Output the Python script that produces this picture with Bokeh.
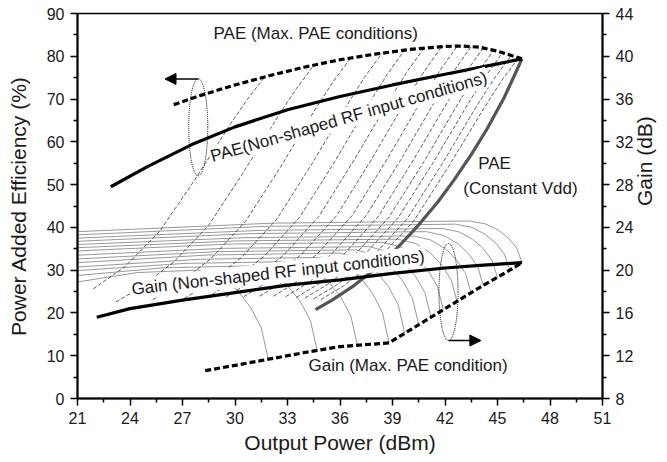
import math
from bokeh.plotting import figure
from bokeh.models import Range1d, LinearAxis, FixedTicker, Label, Arrow, NormalHead
from bokeh.core.properties import value
from bokeh.embed import file_html
from bokeh.resources import INLINE

# ---------------- data ----------------
x_ticks = [21, 24, 27, 30, 33, 36, 39, 42, 45, 48, 51]
x_minor = [22.5, 25.5, 28.5, 31.5, 34.5, 37.5, 40.5, 43.5, 46.5, 49.5]
pae_ticks = [0, 10, 20, 30, 40, 50, 60, 70, 80, 90]
pae_minor = [5, 15, 25, 35, 45, 55, 65, 75, 85]
gain_ticks = [8, 12, 16, 20, 24, 28, 32, 36, 40, 44]
gain_minor = [10, 14, 18, 22, 26, 30, 34, 38, 42]

# PAE (Max. PAE conditions)
pae_max_x = [26.5, 28, 30, 32, 34, 36, 38, 40, 42, 43, 44, 45, 46.4]
pae_max_y = [68.7, 70.8, 73.3, 75.5, 77.5, 79.2, 80.5, 81.6, 82.3, 82.4, 82.1, 81.2, 79.4]
# PAE (Non-shaped RF input conditions)
pae_ns_x = [22.9, 25, 27.5, 30, 33, 36, 39, 42, 44, 46.4]
pae_ns_y = [49.5, 54.2, 59.3, 63.5, 67.5, 70.6, 73.3, 75.8, 77.4, 79.4]
# PAE (Constant Vdd)
pae_vdd_x = [34.6, 35.5, 36.8, 38, 39.3, 40.5, 41.6, 42.5, 43.5, 44.4, 45.4, 46.4]
pae_vdd_y = [20.8, 22.9, 26.4, 30.3, 35.3, 40.6, 46.0, 51.0, 57.0, 63.0, 70.5, 79.4]
# Gain (Non-shaped RF input conditions), dB
gain_ns_x = [22.1, 24, 27, 30, 33, 36, 39, 42, 44, 46.4]
gain_ns_y = [15.6, 16.4, 17.2, 17.9, 18.6, 19.1, 19.7, 20.2, 20.45, 20.7]
# Gain (Max. PAE condition), dB
gain_max_x = [28.3, 30, 32, 34, 36, 38.8, 41.2, 42.7, 44, 45.5, 46.4]
gain_max_y = [10.6, 11.1, 11.7, 12.3, 12.85, 13.2, 15.6, 17.1, 18.4, 19.8, 20.7]

# family of gain curves (thin grey), dB
gain_fam_x = [
    [21, 24.45, 27.9, 29.1, 30.1, 30.9, 31.5, 31.9],
    [21, 25.9, 30.8, 31.97, 32.95, 33.73, 34.31, 34.7],
    [21, 27.08, 33.15, 34.3, 35.27, 36.04, 36.62, 37.0],
    [21, 28.03, 35.05, 36.18, 37.11, 37.86, 38.43, 38.8],
    [21, 28.5, 36.0, 37.11, 38.04, 38.78, 39.33, 39.7],
    [21, 28.95, 36.9, 37.98, 38.88, 39.6, 40.14, 40.5],
    [21, 29.33, 37.65, 38.72, 39.6, 40.31, 40.85, 41.2],
    [21, 29.73, 38.45, 39.49, 40.35, 41.04, 41.56, 41.9],
    [21, 30.15, 39.3, 40.32, 41.17, 41.85, 42.36, 42.7],
    [21, 30.6, 40.2, 41.19, 42.02, 42.68, 43.17, 43.5],
    [21, 30.98, 40.95, 41.93, 42.74, 43.39, 43.88, 44.2],
    [21, 31.43, 41.85, 42.8, 43.58, 44.21, 44.69, 45.0],
    [21, 31.8, 42.6, 43.53, 44.3, 44.93, 45.39, 45.7],
    [21, 32.2, 43.4, 44.3, 45.05, 45.65, 46.1, 46.4],
]
gain_fam_y = [
    [18.9, 19.78, 20.0, 19.42, 18.17, 16.51, 14.6, 11.7],
    [19.5, 20.22, 20.4, 19.85, 18.66, 17.08, 15.27, 12.5],
    [19.96, 20.63, 20.8, 20.25, 19.07, 17.5, 15.7, 12.95],
    [20.3, 21.02, 21.2, 20.64, 19.44, 17.84, 16.0, 13.2],
    [20.7, 21.42, 21.6, 21.08, 19.95, 18.45, 16.73, 14.1],
    [21.05, 21.73, 21.9, 21.41, 20.36, 18.96, 17.35, 14.9],
    [21.4, 22.04, 22.2, 21.74, 20.75, 19.43, 17.91, 15.6],
    [21.8, 22.44, 22.6, 22.16, 21.21, 19.95, 18.5, 16.3],
    [22.1, 22.74, 22.9, 22.49, 21.6, 20.42, 19.06, 17.0],
    [22.4, 23.04, 23.2, 22.82, 22.01, 20.93, 19.69, 17.8],
    [22.7, 23.42, 23.6, 23.24, 22.48, 21.46, 20.29, 18.5],
    [23.0, 23.72, 23.9, 23.58, 22.89, 21.97, 20.91, 19.3],
    [23.3, 24.1, 24.3, 24.0, 23.35, 22.49, 21.5, 20.0],
    [23.6, 24.4, 24.6, 24.33, 23.74, 22.96, 22.07, 20.7],
]

# family of PAE curves (thin dotted), %
pae_fam_x = [
    [21.9, 23.7, 25.7, 27.7, 29.7, 30.7, 31.7],
    [23.2, 24.5, 26.5, 28.5, 30.5, 32.5, 33.5, 34.5],
    [25.3, 26.6, 28.6, 30.6, 32.6, 34.6, 35.6, 36.6],
    [27.1, 28.4, 30.4, 32.4, 34.4, 36.4, 37.4, 38.4],
    [28.4, 29.7, 31.7, 33.7, 35.7, 37.7, 38.7, 39.7],
    [29.5, 30.8, 32.8, 34.8, 36.8, 38.8, 39.8, 40.8],
    [30.5, 31.8, 33.8, 35.8, 37.8, 39.8, 40.8, 41.8],
    [31.4, 32.7, 34.7, 36.7, 38.7, 40.7, 41.7, 42.7],
    [32.2, 33.5, 35.5, 37.5, 39.5, 41.5, 42.5, 43.5],
    [32.9, 34.2, 36.2, 38.2, 40.2, 42.2, 43.2, 44.2],
    [33.5, 34.8, 36.8, 38.8, 40.8, 42.8, 43.8, 44.8],
    [34.0, 35.3, 37.3, 39.3, 41.3, 43.3, 44.3, 45.3],
    [34.5, 35.8, 37.8, 39.8, 41.8, 43.8, 44.8, 45.8],
    [34.9, 36.2, 38.2, 40.2, 42.2, 44.2, 45.2, 46.2],
]
pae_fam_y = [
    [25.6, 30.8, 39.1, 51.1, 63.9, 69.9, 75.2],
    [22.6, 25.7, 31.9, 40.5, 53.0, 66.2, 72.4, 77.9],
    [23.1, 26.3, 32.6, 41.4, 54.1, 67.7, 74.0, 79.6],
    [23.4, 26.6, 33.1, 42.0, 54.9, 68.6, 75.1, 80.7],
    [23.6, 26.9, 33.4, 42.4, 55.4, 69.3, 75.8, 81.5],
    [23.8, 27.0, 33.6, 42.6, 55.7, 69.6, 76.2, 81.9],
    [23.8, 27.1, 33.7, 42.7, 55.9, 69.9, 76.4, 82.2],
    [23.9, 27.2, 33.8, 42.8, 56.0, 70.0, 76.6, 82.4],
    [23.9, 27.2, 33.7, 42.8, 56.0, 70.0, 76.5, 82.3],
    [23.8, 27.1, 33.6, 42.6, 55.8, 69.7, 76.3, 82.0],
    [23.6, 26.9, 33.4, 42.4, 55.4, 69.3, 75.8, 81.5],
    [23.5, 26.7, 33.2, 42.1, 55.0, 68.8, 75.2, 80.9],
    [23.3, 26.5, 32.9, 41.8, 54.6, 68.3, 74.7, 80.3],
    [23.1, 26.3, 32.7, 41.4, 54.2, 67.7, 74.1, 79.7],
]

# grouping ellipses (centre x, centre y in PAE units, width, height)
ell_x = [27.9, 42.2]
ell_y = [63.4, 24.9]
ell_w = [1.09, 1.09]
ell_h = [22.7, 22.7]

FONT = "Liberation Sans"

p = figure(frame_width=525, frame_height=385, output_backend="svg", toolbar_location=None,
           x_range=Range1d(21, 51), y_range=Range1d(0, 90),
           min_border_left=77, min_border_right=60, min_border_top=13, min_border_bottom=60)
p.extra_y_ranges = {"gain": Range1d(8, 44)}
p.xgrid.visible = False
p.ygrid.visible = False
p.outline_line_color = "black"
p.outline_line_width = 1.5
p.background_fill_color = "white"
p.border_fill_color = "white"

# families
for xs, ys in zip(gain_fam_x, gain_fam_y):
    p.line(xs, ys, y_range_name="gain", line_color="#8c8c8c", line_width=0.9)
for xs, ys in zip(pae_fam_x, pae_fam_y):
    p.line(xs, ys, line_color="#333333", line_width=0.8, line_dash="4 2")

# main curves
p.line(pae_vdd_x, pae_vdd_y, line_color="#555555", line_width=3.2)
p.line(pae_ns_x, pae_ns_y, line_color="black", line_width=3.2)
p.line(pae_max_x, pae_max_y, line_color="black", line_width=3.2, line_dash="6 3")
p.line(gain_ns_x, gain_ns_y, y_range_name="gain", line_color="black", line_width=3.2)
p.line(gain_max_x, gain_max_y, y_range_name="gain", line_color="black", line_width=3.2, line_dash="6 3")

# ellipses + arrows
p.ellipse(ell_x, ell_y, width=ell_w, height=ell_h, fill_color=None,
          line_color="black", line_width=1, line_dash=value("1 1"))
p.add_layout(Arrow(x_start=27.9, y_start=74.7, x_end=26.0, y_end=74.7, line_width=1.5,
                   end=NormalHead(size=11, fill_color="black", line_color="black")))
p.add_layout(Arrow(x_start=42.2, y_start=13.55, x_end=44.05, y_end=13.55, line_width=1.5,
                   end=NormalHead(size=11, fill_color="black", line_color="black")))

def lab(x, y, t, angle=0.0, align="center", bg=True, size="17px"):
    kw = dict(x=x, y=y, text=t, angle=angle, angle_units="deg", text_align=align,
              text_baseline="middle", text_font=FONT, text_font_size=size, text_color="#1a1a1a")
    if bg:
        kw.update(background_fill_color="white", padding=1)
    p.add_layout(Label(**kw))

lab(28.77, 85.3, "PAE (Max. PAE conditions)", align="left", bg=False)
lab(36.51, 65.8, "PAE(Non-shaped RF input conditions)", angle=16.1)
lab(32.46, 29.4, "Gain (Non-shaped RF input conditions)", angle=6.4)
lab(44.83, 54.9, "PAE")
lab(46.31, 49.07, "(Constant Vdd)")
lab(39.89, 7.7, "Gain (Max. PAE condition)", bg=False)

# axes
def style_axis(ax):
    ax.axis_line_width = 2
    ax.axis_line_color = "black"
    ax.major_tick_line_width = 1.5
    ax.minor_tick_line_width = 1.5
    ax.major_tick_in = 0
    ax.major_tick_out = 7
    ax.minor_tick_in = 0
    ax.minor_tick_out = 4
    ax.major_label_text_font = FONT
    ax.major_label_text_font_size = "16px"
    ax.major_label_text_color = "#1a1a1a"
    ax.major_label_standoff = 6
    ax.axis_label_text_font = FONT
    ax.axis_label_text_font_size = "21px"
    ax.axis_label_text_font_style = "normal"
    ax.axis_label_text_color = "#1a1a1a"

p.xaxis.ticker = FixedTicker(ticks=x_ticks, minor_ticks=x_minor)
p.yaxis.ticker = FixedTicker(ticks=pae_ticks, minor_ticks=pae_minor)
p.xaxis.axis_label = "Output Power (dBm)"
p.yaxis.axis_label = "Power Added Efficiency (%)"
style_axis(p.xaxis[0])
style_axis(p.yaxis[0])
p.yaxis.axis_label_standoff = 14
p.xaxis.axis_label_standoff = 4

gax = LinearAxis(y_range_name="gain", ticker=FixedTicker(ticks=gain_ticks, minor_ticks=gain_minor),
                 axis_label="Gain (dB)")
style_axis(gax)
gax.axis_label_standoff = 8
if "axis_label_orientation" in gax.properties():
    gax.axis_label_orientation = math.pi / 2
p.add_layout(gax, "right")

open("out.html", "w").write(file_html(p, INLINE))
